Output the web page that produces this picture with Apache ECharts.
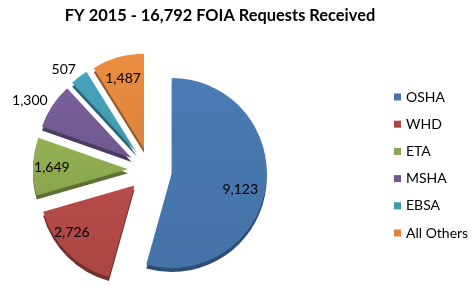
<!DOCTYPE html>
<html><head><meta charset="utf-8">
<script src="https://cdn.jsdelivr.net/npm/echarts@6/dist/echarts.min.js"></script>
<style>html,body{margin:0;padding:0;background:#fff}#c{width:472px;height:286px}</style>
</head><body><div id="c"></div>
<script>
const titleText = 'FY 2015 - 16,792 FOIA Requests Received';
const categories = ['OSHA', 'WHD', 'ETA', 'MSHA', 'EBSA', 'All Others'];
const values = [9123, 2726, 1649, 1300, 507, 1487];
const insideLabel = [true, true, true, false, false, true];
const colors = ['#4572A7', '#AA4643', '#89A54E', '#71588F', '#4198AF', '#DB843D'];
const sideColors = ['#2E4D73', '#73302D', '#5D7035', '#4C3B61', '#2C6777', '#955A29'];
const labelNudge = [[-7, 6], [-9, -7], [0, 0], [-4, 7], [-2, 10], [0, 3]];

const fmt = v => v.toLocaleString('en-US');
const C = [150, 170], R = 95, OFF = 22;
const FONT = 'Lato, "Open Sans", sans-serif';

function base(extra) {
  return Object.assign({
    type: 'pie', startAngle: 90, clockwise: true,
    selectedMode: 'multiple', selectedOffset: OFF,
    animation: false, avoidLabelOverlap: false,
    labelLine: { show: false }, emphasis: { disabled: true }
  }, extra);
}

function shade(c) {
  return { type: 'linear', x: 0, y: 0, x2: 0, y2: 1,
    colorStops: [{ offset: 0, color: echarts.color.lift(c, -0.08) }, { offset: 1, color: c }] };
}

const nudge = p => ({ dx: labelNudge[p.dataIndex][0], dy: labelNudge[p.dataIndex][1] });

const chart = echarts.init(document.getElementById('c'));
chart.setOption({
  backgroundColor: '#fff',
  title: { text: titleText, left: 215, top: 3, textAlign: 'center',
    textStyle: { fontFamily: FONT, fontWeight: 'bold', fontSize: 16.4, color: '#000' } },
  legend: {
    orient: 'vertical', left: 389, top: 85, itemWidth: 7, itemHeight: 7, itemGap: 13.2,
    icon: 'rect', selectedMode: false,
    textStyle: { fontFamily: FONT, fontSize: 14, color: '#000' },
    data: categories.map((n, i) => ({ name: n, itemStyle: { color: colors[i] } }))
  },
  series: [
    base({ name: 'depth', center: [C[0], C[1] + 4], radius: R, z: 1, silent: true,
      label: { show: false },
      data: categories.map((n, i) => ({ name: n, value: values[i], selected: true,
        itemStyle: { color: sideColors[i] } })) }),
    base({ name: 'top', center: C, radius: R, z: 2, silent: true,
      label: { show: false },
      data: categories.map((n, i) => ({ name: n, value: values[i], selected: true,
        itemStyle: { color: shade(colors[i]) } })) }),
    base({ name: 'lblIn', center: C, radius: R * 1.54, z: 3, silent: true,
      itemStyle: { color: 'rgba(0,0,0,0)' }, labelLayout: nudge,
      data: categories.map((n, i) => ({ name: n, value: values[i], selected: true,
        label: { show: insideLabel[i], position: 'inside', formatter: fmt(values[i]),
          fontFamily: FONT, fontSize: 14, color: '#000' } })) }),
    base({ name: 'lblOut', center: C, radius: R * 2.4, z: 3, silent: true,
      itemStyle: { color: 'rgba(0,0,0,0)' }, labelLayout: nudge,
      data: categories.map((n, i) => ({ name: n, value: values[i], selected: true,
        label: { show: !insideLabel[i], position: 'inside', formatter: fmt(values[i]),
          fontFamily: FONT, fontSize: 14, color: '#000' } })) })
  ]
});
</script></body></html>
